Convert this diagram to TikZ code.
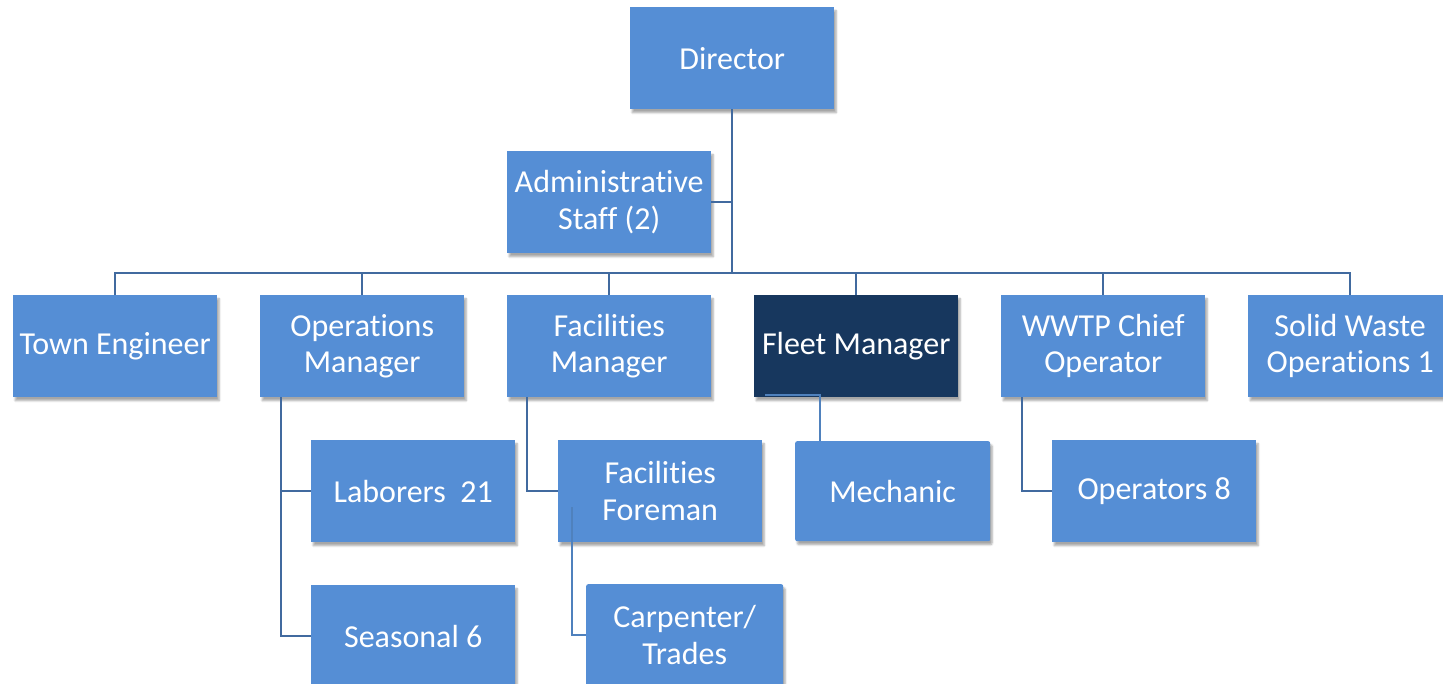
\documentclass[tikz,border=0pt]{standalone}
\usepackage{fontspec}
\setmainfont{Carlito}[Ligatures={NoCommon}]
\usetikzlibrary{calc,shadows.blur}
\definecolor{boxblue}{HTML}{558ED5}
\definecolor{boxnavy}{HTML}{17375E}
\definecolor{linkblue}{HTML}{416A9F}
\definecolor{linklight}{HTML}{4F81BD}
\tikzset{
  unit/.style={draw=none, fill=boxblue, text=white, align=center,
    anchor=north west, minimum width=204pt, minimum height=102pt,
    inner sep=0pt, font=\fontsize{32}{36.5}\selectfont,
    blur shadow={shadow xshift=2pt, shadow yshift=-3.5pt, shadow blur steps=6, shadow opacity=35}},
  roundunit/.style={unit, rounded corners=2pt},
  link/.style={draw=linkblue, line width=2pt},
  linklt/.style={draw=linklight, line width=2pt}
}
\begin{document}
\begin{tikzpicture}[x=1pt,y=-1pt]
\useasboundingbox (0,0) rectangle (1443,684);
\begin{scope}
\clip (0,0) rectangle (1443,684);
% top level
\node[unit] (dir) at (630,7) {Director};
\node[unit] (adm) at (507,151) {Administrative\\Staff (2)};
% managers
\node[unit] (te)  at (13,295)   {Town Engineer};
\node[unit] (ops) at (260,295)  {Operations\\Manager};
\node[unit] (fac) at (507,295)  {Facilities\\Manager};
\node[unit, fill=boxnavy] (flt) at (754,295) {Fleet Manager};
\node[unit] (ww)  at (1001,295) {WWTP Chief\\Operator};
\node[unit] (sw)  at (1248,295) {Solid Waste\\Operations 1};
% staff
\node[unit] (lab) at (311,440) {Laborers~~21};
\node[unit] (sea) at (311,585) {Seasonal 6};
\node[unit] (frm) at (558,440) {Facilities\\Foreman};
\node[roundunit, minimum width=197pt] (car) at (586,584) {Carpenter/\\Trades};
\node[roundunit, minimum width=195pt, minimum height=100pt] (mech) at (795,441) {Mechanic};
\node[unit] (opr) at (1052,440) {Operators 8};

% reporting lines
\coordinate (bus) at (0,273);
\draw[link] (dir.south) -- (dir.south |- bus);
\draw[link] (adm.east) -- (adm.east -| dir.south);
\draw[link] (te.north) -- (te.north |- bus) -- (sw.north |- bus) -- (sw.north);
\foreach \n in {ops,fac,flt,ww}
  \draw[link] (\n.north) -- (\n.north |- bus);
\draw[link] ($(ops.south west)+(21,0)$) |- (lab.west);
\draw[link] ($(ops.south west)+(21,0)$) |- (sea.west);
\draw[link] ($(fac.south west)+(20,0)$) |- (frm.west);
\draw[linklt] ($(frm.west)+(14,16)$) |- (car.west);
\draw[linklt] ($(flt.south west)+(11,-2)$) -| ($(mech.north west)+(25,0)$);
\draw[link] ($(ww.south west)+(21,0)$) |- (opr.west);
\end{scope}
\end{tikzpicture}
\end{document}
